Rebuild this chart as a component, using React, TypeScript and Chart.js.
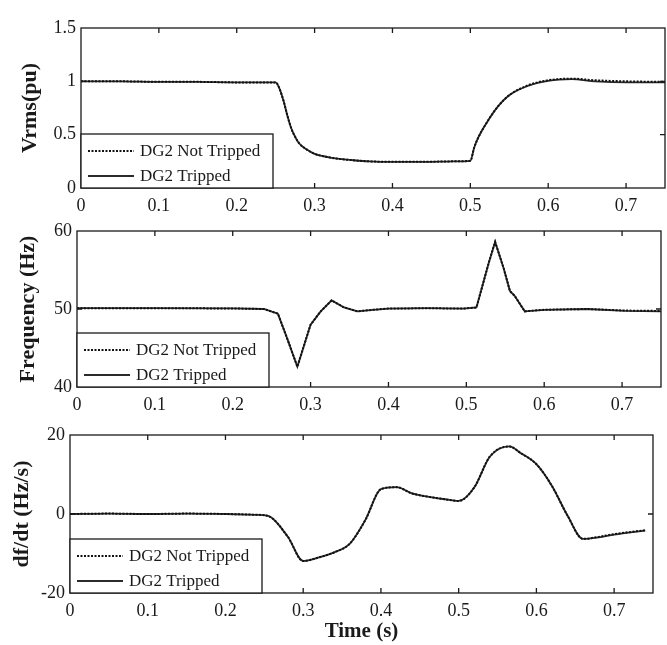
import React, { useEffect, useRef } from 'react';
import { Chart, registerables } from 'chart.js';

Chart.register(...registerables);

// ---------- data ----------
const LEGEND_LABELS = ['DG2 Not Tripped', 'DG2 Tripped'];
const X_TITLE = 'Time (s)';
const Y_TITLES = ['Vrms(pu)', 'Frequency (Hz)', 'df/dt (Hz/s)'];

const T_V = [0, 0.05, 0.1, 0.15, 0.2, 0.25, 0.255, 0.26, 0.265, 0.27, 0.275, 0.28, 0.29, 0.3, 0.31, 0.32, 0.335, 0.35, 0.37, 0.4, 0.44, 0.48, 0.5, 0.505, 0.51, 0.52, 0.535, 0.55, 0.575, 0.6, 0.63, 0.66, 0.7, 0.75];
const V_NOT = [1.0, 1.0, 0.995, 0.995, 0.99, 0.99, 0.93, 0.82, 0.68, 0.56, 0.48, 0.42, 0.36, 0.32, 0.3, 0.285, 0.27, 0.26, 0.25, 0.245, 0.245, 0.25, 0.255, 0.38, 0.47, 0.6, 0.76, 0.87, 0.965, 1.01, 1.025, 1.01, 1.0, 0.995];
const V_TRIP = [1.0, 1.0, 0.995, 0.995, 0.99, 0.99, 0.93, 0.82, 0.68, 0.56, 0.48, 0.42, 0.36, 0.32, 0.3, 0.285, 0.27, 0.26, 0.25, 0.245, 0.245, 0.25, 0.255, 0.38, 0.47, 0.6, 0.76, 0.87, 0.96, 1.005, 1.02, 1.0, 0.99, 0.99];

const T_F = [0, 0.1, 0.2, 0.24, 0.258, 0.27, 0.283, 0.3, 0.313, 0.327, 0.343, 0.36, 0.38, 0.4, 0.45, 0.496, 0.513, 0.529, 0.537, 0.548, 0.556, 0.562, 0.575, 0.6, 0.655, 0.704, 0.75];
const F_NOT = [50.1, 50.1, 50.07, 50.0, 49.4, 46.2, 42.6, 48.0, 49.7, 51.1, 50.2, 49.7, 49.9, 50.05, 50.1, 50.05, 50.2, 56.0, 58.6, 55.2, 52.3, 51.7, 49.7, 49.9, 50.0, 49.8, 49.75];
const F_TRIP = [50.1, 50.1, 50.07, 50.0, 49.4, 46.2, 42.6, 48.0, 49.7, 51.1, 50.2, 49.7, 49.9, 50.05, 50.1, 50.05, 50.2, 56.0, 58.6, 55.2, 52.3, 51.7, 49.7, 49.9, 50.0, 49.75, 49.7];

const T_D = [0, 0.05, 0.1, 0.15, 0.2, 0.24, 0.255, 0.28, 0.3, 0.32, 0.34, 0.36, 0.38, 0.4, 0.42, 0.44, 0.46, 0.48, 0.5, 0.52, 0.54, 0.565, 0.58, 0.6, 0.62, 0.64, 0.66, 0.68, 0.7, 0.74];
const D_NOT = [0, 0.1, 0, 0.1, 0, -0.2, -0.5, -5.7, -11.9, -11.0, -9.7, -7.5, -1.5, 6.3, 6.8, 5.2, 4.4, 3.8, 3.3, 6.7, 14.5, 17.1, 15.4, 12.6, 7.1, -0.4, -6.3, -5.8, -5.1, -4.1];
const D_TRIP = [0, 0.1, 0, 0.1, 0, -0.2, -0.5, -5.7, -11.9, -11.0, -9.7, -7.5, -1.5, 6.3, 6.8, 5.2, 4.4, 3.8, 3.3, 6.7, 14.5, 17.1, 15.4, 12.6, 7.1, -0.4, -6.3, -5.9, -5.2, -4.2];

const X_MIN = 0;
const X_MAX = 0.75;
const X_STEP = 0.1;

// ---------- layout / style ----------
const FONT = '"Liberation Serif", "Times New Roman", serif';
const INK = '#1a1a1a';

const PANELS = [
  { top: 0, height: 222, padTop: 28, left: 81, right: 665, xHeight: 34, t: T_V, a: V_NOT, b: V_TRIP, yMin: 0, yMax: 1.5, yStep: 0.5, title: Y_TITLES[0], titlePad: 17, xTitle: false, interp: 'monotone' },
  { top: 200, height: 222, padTop: 31, left: 77, right: 661, xHeight: 35, t: T_F, a: F_NOT, b: F_TRIP, yMin: 40, yMax: 60, yStep: 10, title: Y_TITLES[1], titlePad: 15, xTitle: false, interp: 'linear' },
  { top: 405, height: 240, padTop: 30, left: 70, right: 653, xHeight: 52, t: T_D, a: D_NOT, b: D_TRIP, yMin: -20, yMax: 20, yStep: 20, title: Y_TITLES[2], titlePad: 9, xTitle: true, interp: 'monotone' },
];

const framePlugin = {
  id: 'matlabFrame',
  afterDatasetsDraw(chart: any) {
    const { ctx, chartArea: a, scales } = chart;
    ctx.save();
    ctx.strokeStyle = INK;
    ctx.lineWidth = 1.3;
    ctx.strokeRect(a.left, a.top, a.right - a.left, a.bottom - a.top);
    const L = 5;
    ctx.beginPath();
    scales.x.ticks.forEach((t: any) => {
      const px = scales.x.getPixelForValue(t.value);
      if (px <= a.left + 1 || px >= a.right - 1) return;
      ctx.moveTo(px, a.bottom); ctx.lineTo(px, a.bottom - L);
      ctx.moveTo(px, a.top); ctx.lineTo(px, a.top + L);
    });
    scales.y.ticks.forEach((t: any) => {
      const py = scales.y.getPixelForValue(t.value);
      if (py <= a.top + 1 || py >= a.bottom - 1) return;
      ctx.moveTo(a.left, py); ctx.lineTo(a.left + L, py);
      ctx.moveTo(a.right, py); ctx.lineTo(a.right - L, py);
    });
    ctx.stroke();

    // legend box in lower-left corner
    const w = 192, h = 54;
    const bx = a.left, by = a.bottom - h;
    ctx.fillStyle = '#ffffff';
    ctx.fillRect(bx, by, w, h);
    ctx.strokeRect(bx, by, w, h);
    ctx.font = `17px ${FONT}`;
    ctx.textBaseline = 'middle';
    ctx.textAlign = 'left';
    chart.data.datasets.forEach((ds: any, i: number) => {
      const y = by + 17 + 25 * i;
      ctx.beginPath();
      ctx.strokeStyle = ds.borderColor;
      ctx.lineWidth = ds.borderWidth;
      ctx.setLineDash(ds.borderDash || []);
      ctx.moveTo(bx + 7, y);
      ctx.lineTo(bx + 53, y);
      ctx.stroke();
      ctx.setLineDash([]);
      ctx.fillStyle = INK;
      ctx.fillText(ds.label, bx + 59, y + 1);
    });
    ctx.restore();
  },
};

const fmtX = (v: any) => {
  const r = Math.round(Number(v) * 10) / 10;
  return r === 0 ? '0' : r.toFixed(1);
};

function Panel({ p }: { p: any }) {
  const ref = useRef<HTMLCanvasElement>(null);
  useEffect(() => {
    const interp = p.interp === 'monotone' ? { cubicInterpolationMode: 'monotone' } : { tension: 0 };
    const chart = new Chart(ref.current as HTMLCanvasElement, {
      type: 'line',
      data: {
        datasets: [
          {
            label: LEGEND_LABELS[0],
            data: p.t.map((x: number, i: number) => ({ x, y: p.a[i] })),
            borderColor: '#111111',
            borderWidth: 2.0,
            borderDash: [2, 1.5],
            pointRadius: 0,
            fill: false,
            ...interp,
          },
          {
            label: LEGEND_LABELS[1],
            data: p.t.map((x: number, i: number) => ({ x, y: p.b[i] })),
            borderColor: '#2b2b2b',
            borderWidth: 1.8,
            pointRadius: 0,
            fill: false,
            ...interp,
          },
        ],
      },
      options: {
        responsive: false,
        maintainAspectRatio: false,
        animation: false,
        layout: { padding: { top: p.padTop, left: 0, right: 667 - p.right, bottom: 0 } },
        plugins: { legend: { display: false }, tooltip: { enabled: false }, title: { display: false } },
        scales: {
          x: {
            type: 'linear',
            min: X_MIN,
            max: X_MAX,
            grid: { display: false, drawTicks: false },
            border: { display: false },
            ticks: {
              stepSize: X_STEP,
              includeBounds: false,
              autoSkip: false,
              maxRotation: 0,
              padding: 7,
              color: INK,
              font: { family: FONT, size: 18 },
              callback: fmtX,
            },
            title: {
              display: p.xTitle,
              text: X_TITLE,
              color: INK,
              font: { family: FONT, size: 21, weight: 'bold' },
              padding: { top: 0, bottom: 1 },
            },
            afterFit: (s: any) => {
              s.height = p.xHeight;
              s.paddingLeft = 0;
              s.paddingRight = 0;
            },
          },
          y: {
            type: 'linear',
            min: p.yMin,
            max: p.yMax,
            grid: { display: false, drawTicks: false },
            border: { display: false },
            ticks: {
              stepSize: p.yStep,
              padding: 5,
              color: INK,
              font: { family: FONT, size: 18 },
              callback: (v: any) => String(Math.round(Number(v) * 10) / 10),
            },
            title: {
              display: true,
              text: p.title,
              color: INK,
              font: { family: FONT, size: 22, weight: 'bold' },
              padding: { top: p.titlePad, bottom: 0 },
            },
            afterFit: (s: any) => {
              s.width = p.left;
              s.paddingTop = 0;
              s.paddingBottom = 0;
            },
          },
        },
      } as any,
      plugins: [framePlugin],
    });
    return () => chart.destroy();
  }, []);
  return (
    <canvas
      ref={ref}
      width={667}
      height={p.height}
      style={{ position: 'absolute', left: 0, top: p.top, width: 667, height: p.height }}
    />
  );
}

export default function App() {
  return (
    <div style={{ position: 'fixed', left: 0, top: 0, width: 667, height: 645, background: '#ffffff', overflow: 'hidden' }}>
      {PANELS.map((p, i) => (
        <Panel key={i} p={p} />
      ))}
    </div>
  );
}
